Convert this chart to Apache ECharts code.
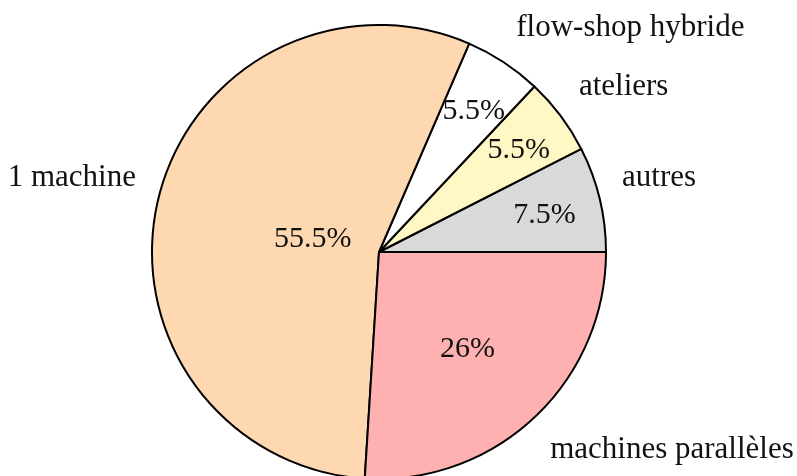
<!DOCTYPE html>
<html>
<head>
<meta charset="utf-8">
<script src="https://cdn.jsdelivr.net/npm/echarts@6/dist/echarts.min.js"></script>
<style>
  html, body { margin: 0; background: #fff; }
  #main { width: 797px; height: 476px; }
</style>
</head>
<body>
<div id="main"></div>
<script>
  // slices, counterclockwise from 3 o'clock
  var categories = ['autres', 'ateliers', 'flow-shop hybride', '1 machine', 'machines parallèles'];
  var shares = [7.5, 5.5, 5.5, 55.5, 26];
  var sliceColors = ['#d9d9d9', '#fff8c4', '#ffffff', '#fed8b1', '#ffb1b1'];
  // where the percentage sits, as a fraction of the radius
  var innerPos = [0.75, 0.77, 0.76, 0.30, 0.57];

  var cx = 379, cy = 252, R = 227;
  var nameDist = 250;
  var font = 'Liberation Serif';

  var total = shares.reduce(function(a, b) { return a + b; }, 0);
  function midAngle(i) {
    var s = 0;
    for (var k = 0; k < i; k++) s += shares[k];
    return (s + shares[i] / 2) / total * 2 * Math.PI;
  }

  var pieData = categories.map(function(name, i) {
    return { name: name, value: shares[i], itemStyle: { color: sliceColors[i] } };
  });
  var nameData = categories.map(function(name, i) {
    return { name: name, value: shares[i] };
  });

  var chart = echarts.init(document.getElementById('main'));
  chart.setOption({
    animation: false,
    series: [{
      // only carries the outside names
      type: 'pie',
      silent: true,
      center: [cx, cy],
      radius: R,
      startAngle: 0,
      clockwise: false,
      avoidLabelOverlap: false,
      itemStyle: { color: 'transparent', borderWidth: 0 },
      label: {
        show: true,
        position: 'outside',
        formatter: '{b}',
        fontFamily: font,
        fontSize: 31,
        color: '#111'
      },
      labelLine: { show: false },
      labelLayout: function(params) {
        var a = midAngle(params.dataIndex);
        return {
          x: cx + nameDist * Math.cos(a),
          y: cy - nameDist * Math.sin(a),
          align: Math.cos(a) >= 0 ? 'left' : 'right',
          verticalAlign: Math.sin(a) > 0 ? 'bottom' : 'top'
        };
      },
      data: nameData
    }, {
      type: 'pie',
      center: [cx, cy],
      radius: R,
      startAngle: 0,
      clockwise: false,
      avoidLabelOverlap: false,
      emphasis: { disabled: true },
      itemStyle: { borderColor: '#000', borderWidth: 2 },
      label: {
        show: true,
        position: 'inside',
        formatter: '{d}%',
        fontFamily: font,
        fontSize: 30,
        color: '#111'
      },
      labelLayout: function(params) {
        var a = midAngle(params.dataIndex);
        var f = innerPos[params.dataIndex];
        return {
          x: cx + f * R * Math.cos(a),
          y: cy - f * R * Math.sin(a) + 3,
          align: 'center',
          verticalAlign: 'middle'
        };
      },
      data: pieData
    }]
  });
</script>
</body>
</html>
